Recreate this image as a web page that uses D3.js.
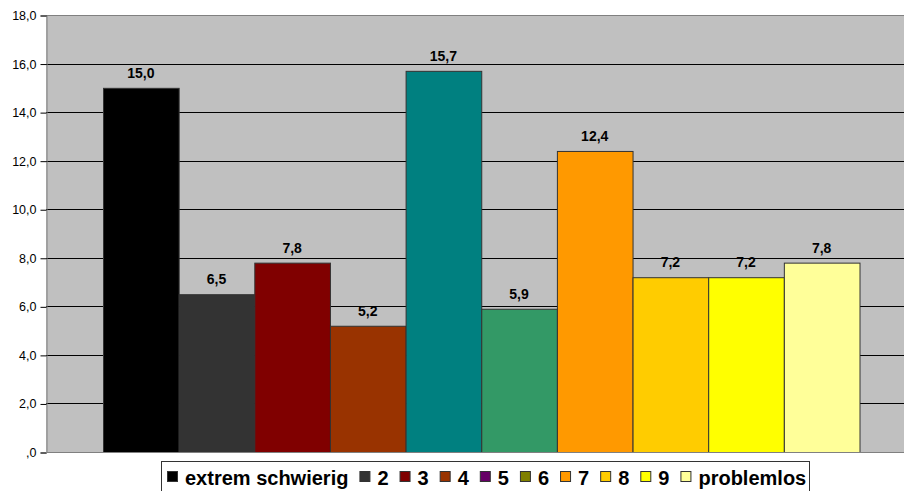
<!DOCTYPE html>
<html><head><meta charset="utf-8">
<script src="https://cdn.jsdelivr.net/npm/d3@7"></script>
<style>body{margin:0;background:#fff}svg{display:block}</style>
</head><body>
<svg id="c" width="904" height="491"></svg>
<script>
const seriesNames = ["extrem schwierig","2","3","4","5","6","7","8","9","problemlos"];
const values = [15.0, 6.5, 7.8, 5.2, 15.7, 5.9, 12.4, 7.2, 7.2, 7.8];
const barColors = ["#000000","#333333","#800000","#993300","#008080","#339966","#FF9900","#FFCC00","#FFFF00","#FFFF99"];
const legendColors = ["#000000","#333333","#800000","#993300","#660066","#808000","#FF9900","#FFCC00","#FFFF00","#FFFF99"];
const yTicks = [0,2,4,6,8,10,12,14,16,18];
const fmt = v => (v === 0 ? "" : String(Math.floor(v))) + "," + String(Math.round((v - Math.floor(v))*10));

const svg = d3.select("#c");
const plot = {left:46, right:904, top:15, bottom:452};
const y = d3.scaleLinear().domain([0,18]).range([plot.bottom, plot.top]);
const x = d3.scaleBand().domain(seriesNames).range([103, 859.5]).padding(0);

svg.append("rect").attr("x",plot.left).attr("y",plot.top)
  .attr("width",plot.right-plot.left).attr("height",plot.bottom-plot.top).attr("fill","#C0C0C0");

// gridlines
svg.append("g").selectAll("line").data(yTicks.filter(t=>t>0 && t<18)).join("line")
  .attr("x1",plot.left).attr("x2",plot.right)
  .attr("y1",d=>Math.round(y(d))+0.5).attr("y2",d=>Math.round(y(d))+0.5)
  .attr("stroke","#000").attr("stroke-width",1);
// top border
svg.append("line").attr("x1",plot.left).attr("x2",plot.right)
  .attr("y1",plot.top+0.5).attr("y2",plot.top+0.5).attr("stroke","#808080");

// bars
svg.append("g").selectAll("rect").data(values).join("rect")
  .attr("x",(d,i)=>x(seriesNames[i])+0.5)
  .attr("y",d=>y(d)+0.5)
  .attr("width",x.bandwidth())
  .attr("height",d=>plot.bottom-y(d))
  .attr("fill",(d,i)=>barColors[i])
  .attr("stroke","#333").attr("stroke-width",1);

// labels
svg.append("g").selectAll("text").data(values).join("text")
  .attr("x",(d,i)=>x(seriesNames[i])+x.bandwidth()/2)
  .attr("y",d=>y(d)-10)
  .attr("text-anchor","middle")
  .attr("font-family","Liberation Sans, Arial, sans-serif")
  .attr("font-weight","bold").attr("font-size","14px")
  .text(d=>fmt(d));

// y axis
const ax = d3.axisLeft(y).tickValues(yTicks).tickSize(6).tickPadding(4).tickFormat(fmt);
const g = svg.append("g").attr("transform",`translate(${plot.left+0.5},0.5)`).call(ax);
g.select(".domain").attr("stroke","#808080");
g.selectAll(".tick line").attr("stroke","#000");
g.selectAll(".tick text").attr("font-family","Liberation Sans, Arial, sans-serif")
  .attr("font-size","12.5px").attr("fill","#000");
// bottom axis line
svg.append("line").attr("x1",plot.left).attr("x2",plot.right)
  .attr("y1",plot.bottom+0.5).attr("y2",plot.bottom+0.5).attr("stroke","#808080");

// legend
const lg = svg.append("g");
lg.append("rect").attr("x",161.5).attr("y",461.5).attr("width",648).attr("height",36)
  .attr("fill","#fff").attr("stroke","#333");
let cx = 167;
seriesNames.forEach((n,i)=>{
  lg.append("rect").attr("x",cx+0.5).attr("y",471.5).attr("width",10).attr("height",10)
    .attr("fill",legendColors[i]).attr("stroke","#333");
  const t = lg.append("text").attr("x",cx+18).attr("y",485)
    .attr("font-family","Liberation Sans, Arial, sans-serif")
    .attr("font-weight","bold").attr("font-size","20px").text(n);
  cx = cx + 18 + t.node().getComputedTextLength() + 11;
});
</script>
</body></html>
